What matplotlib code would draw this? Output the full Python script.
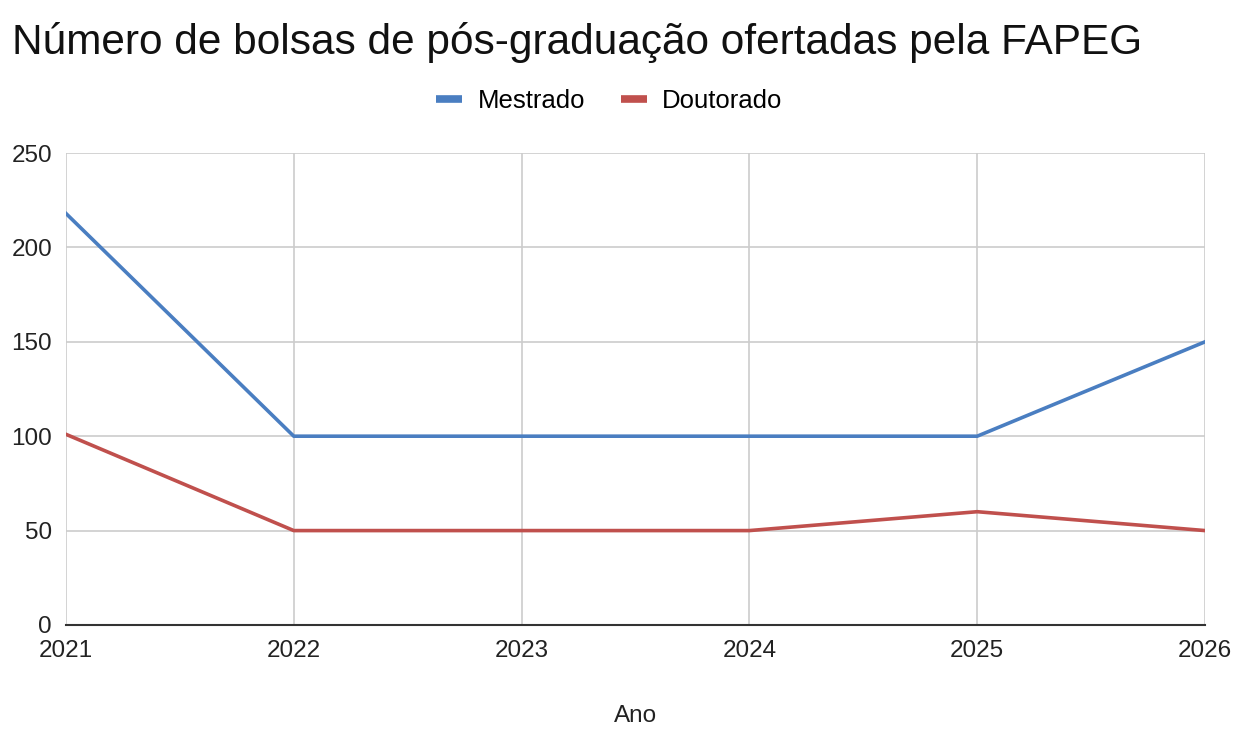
import matplotlib.pyplot as plt

anos = ['2021', '2022', '2023', '2024', '2025', '2026']
mestrado = [218, 100, 100, 100, 100, 150]
doutorado = [101, 50, 50, 50, 60, 50]

plt.rcParams['font.family'] = ['Liberation Sans', 'DejaVu Sans']

fig = plt.figure(figsize=(12.49, 7.35), dpi=100)
ax = fig.add_axes([0.0528, 0.1497, 0.912, 0.6421])

x = range(len(anos))
ax.plot(x, mestrado, color='#4a7ec1', lw=2.6, label='Mestrado')
ax.plot(x, doutorado, color='#c0504d', lw=2.6, label='Doutorado')

ax.set_xlim(0, len(anos) - 1)
ax.set_ylim(0, 250)
ax.set_yticks([0, 50, 100, 150, 200, 250])
ax.set_xticks(list(x))
ax.set_xticklabels(anos)
ax.grid(True, color='#cccccc', lw=1.2)
ax.set_axisbelow(True)
for s in ['top', 'right', 'left']:
    ax.spines[s].set_visible(False)
ax.spines['bottom'].set_color('#333333')
ax.spines['bottom'].set_linewidth(1.5)
ax.tick_params(length=0, labelsize=17.5, colors='#222222')
ax.tick_params(axis='x', pad=11)
ax.tick_params(axis='y', pad=10)
ax.set_xlabel('Ano', fontsize=17.5, color='#222222', labelpad=31)

fig.text(0.0096, 0.942, 'Número de bolsas de pós-graduação ofertadas pela FAPEG',
         fontsize=30.5, color='#111111', va='center')
leg = fig.legend(loc='center', bbox_to_anchor=(0.488, 0.862), ncol=2, frameon=False,
                 fontsize=18.5, handlelength=1.0, columnspacing=1.4, handletextpad=0.6)
for h in leg.get_lines():
    h.set_linewidth(5.5)
    h.set_solid_capstyle('butt')

fig.savefig('out.png', dpi=100, facecolor='white')
